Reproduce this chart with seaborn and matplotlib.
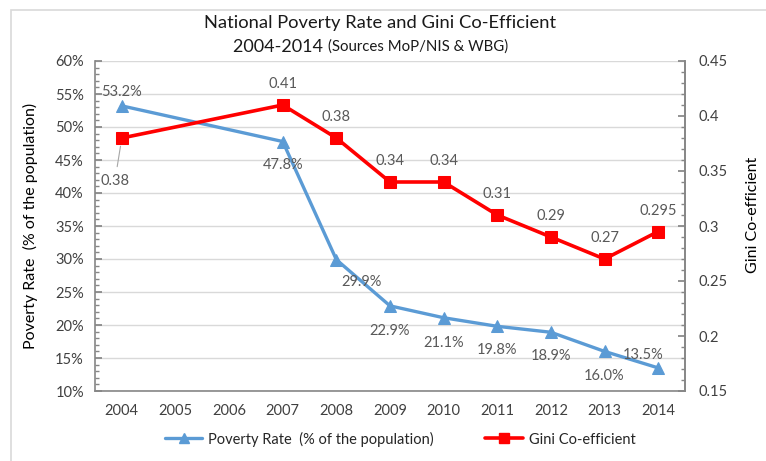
import matplotlib
matplotlib.use("Agg")
import matplotlib.pyplot as plt
import seaborn as sns
import pandas as pd
import numpy as np
from matplotlib.ticker import MultipleLocator, FuncFormatter
from matplotlib.patches import Rectangle
from matplotlib.lines import Line2D

years = ["2004", "2005", "2006", "2007", "2008", "2009", "2010", "2011", "2012", "2013", "2014"]
pov_years = ["2004", "2007", "2008", "2009", "2010", "2011", "2012", "2013", "2014"]
poverty = [53.2, 47.8, 29.9, 22.9, 21.1, 19.8, 18.9, 16.0, 13.5]
gini = [0.38, 0.41, 0.38, 0.34, 0.34, 0.31, 0.29, 0.27, 0.295]
pov_labels = ["53.2%", "47.8%", "29.9%", "22.9%", "21.1%", "19.8%", "18.9%", "16.0%", "13.5%"]
gini_labels = ["0.38", "0.41", "0.38", "0.34", "0.34", "0.31", "0.29", "0.27", "0.295"]

sns.set_theme(style="white")
plt.rcParams["font.family"] = ["Lato", "DejaVu Sans"]

BLUE = "#5B9BD5"
RED = "#FF0000"
GRAY_TXT = "#595959"
SPINE = "#868686"

df = pd.DataFrame({
    "pos": [years.index(y) for y in pov_years],
    "poverty": poverty,
    "gini": gini,
})

fig = plt.figure(figsize=(7.66, 4.61), dpi=100)
fig.patches.append(Rectangle((11 / 766, -0.1), 1.2, 1 - 10 / 461 + 0.1, transform=fig.transFigure,
                             fill=False, edgecolor="#d9d9d9", linewidth=1.2, zorder=0))
ax = fig.add_axes([95 / 766, 1 - 391 / 461, 590 / 766, 330 / 461])
ax2 = ax.twinx()

sns.lineplot(data=df, x="pos", y="poverty", ax=ax, color=BLUE, linewidth=2.4,
             marker="^", markersize=8, markeredgecolor=BLUE, legend=False)
sns.lineplot(data=df, x="pos", y="gini", ax=ax2, color=RED, linewidth=2.6,
             marker="s", markersize=8, markeredgecolor=RED, legend=False)

ax.set_xlim(-0.5, len(years) - 0.5)
ax.set_ylim(10, 60)
ax2.set_ylim(0.15, 0.45)

ax.set_xticks(range(len(years)))
ax.set_xticklabels(years)
ax.set_xticks(np.arange(-0.5, len(years), 1.0), minor=True)
ax.tick_params(axis="x", which="major", length=0, labelsize=10.5, labelcolor="#404040", pad=9)
ax.tick_params(axis="x", which="minor", length=4, direction="out", color=SPINE, width=1)

ax.yaxis.set_major_locator(MultipleLocator(5))
ax.yaxis.set_minor_locator(MultipleLocator(1))
ax.yaxis.set_major_formatter(FuncFormatter(lambda v, p: f"{v:.0f}%"))
ax.tick_params(axis="y", which="major", direction="in", length=5, color=SPINE, labelsize=10.5,
               labelcolor="#404040", pad=8)
ax.tick_params(axis="y", which="minor", direction="in", length=3, color=SPINE, left=True)

ax2.yaxis.set_major_locator(MultipleLocator(0.05))
ax2.yaxis.set_minor_locator(MultipleLocator(0.01))
ax2.yaxis.set_major_formatter(FuncFormatter(lambda v, p: f"{v:g}"))
ax2.tick_params(axis="y", which="major", direction="in", length=5, color=SPINE, labelsize=10.5,
                labelcolor="#404040", pad=10)
ax2.tick_params(axis="y", which="minor", direction="in", length=3, color=SPINE, right=True)

ax.grid(axis="y", which="major", color="#d9d9d9", linewidth=1)
ax.set_axisbelow(True)

for a in (ax, ax2):
    a.spines["top"].set_visible(False)
    for s in ("left", "right", "bottom"):
        a.spines[s].set_color(SPINE)
        a.spines[s].set_linewidth(1.2)
ax2.spines["left"].set_visible(False)
ax2.spines["bottom"].set_visible(False)

ax.set_xlabel("")
ax.set_ylabel("Poverty Rate  (% of the population)", fontsize=11.5, color="#000000", va="center")
ax.yaxis.set_label_coords(-65 / 590, 0.5)
ax2.set_ylabel("Gini Co-efficient", fontsize=11.5, color="#000000", rotation=90, va="center")
ax2.yaxis.set_label_coords(1 + 68 / 590, (391 - 215) / 330)

# data labels (offsets in points)
pov_off = [(0, 10), (0, -17), (18, -16), (0, -18), (0, -18), (0, -17), (0, -17), (0, -18), (-11, 9)]
for (x, y, t, o) in zip(df["pos"], poverty, pov_labels, pov_off):
    ax.annotate(t, (x, y), xytext=o, textcoords="offset points", ha="center", va="center",
                fontsize=10.5, color=GRAY_TXT)

gini_off = [(-5, -31), (0, 15), (0, 15), (0, 15), (0, 15), (0, 15), (0, 15), (0, 15), (0, 15)]
for i, (x, y, t, o) in enumerate(zip(df["pos"], gini, gini_labels, gini_off)):
    if i == 0:
        ax2.annotate(t, (x, y), xytext=o, textcoords="offset points", ha="center", va="center",
                     fontsize=10.5, color=GRAY_TXT,
                     arrowprops=dict(arrowstyle="-", color="#a6a6a6", lw=0.8, shrinkA=3, shrinkB=6))
    else:
        ax2.annotate(t, (x, y), xytext=o, textcoords="offset points", ha="center", va="center",
                     fontsize=10.5, color=GRAY_TXT)

# title
fig.text(380 / 766, 1 - 23 / 461, "National Poverty Rate and Gini Co-Efficient", ha="center",
         va="center", fontsize=13.2, color="#1a1a1a")
fig.text(328 / 766, 1 - 47 / 461, "2004-2014 ", ha="right", va="center", fontsize=13, color="#1a1a1a")
fig.text(328 / 766, 1 - 47 / 461, "(Sources MoP/NIS & WBG)", ha="left", va="center", fontsize=10.8,
         color="#1a1a1a")

handles = [
    Line2D([], [], color=BLUE, lw=2.4, marker="^", markersize=7),
    Line2D([], [], color=RED, lw=2.6, marker="s", markersize=7),
]
fig.legend(handles, ["Poverty Rate  (% of the population)", "Gini Co-efficient"],
           loc="center", bbox_to_anchor=(400 / 766, 1 - 439 / 461), ncol=2, frameon=False,
           fontsize=10.5, columnspacing=3.5, handlelength=2.6, handletextpad=0.4)

fig.savefig("out.png", dpi=100)
